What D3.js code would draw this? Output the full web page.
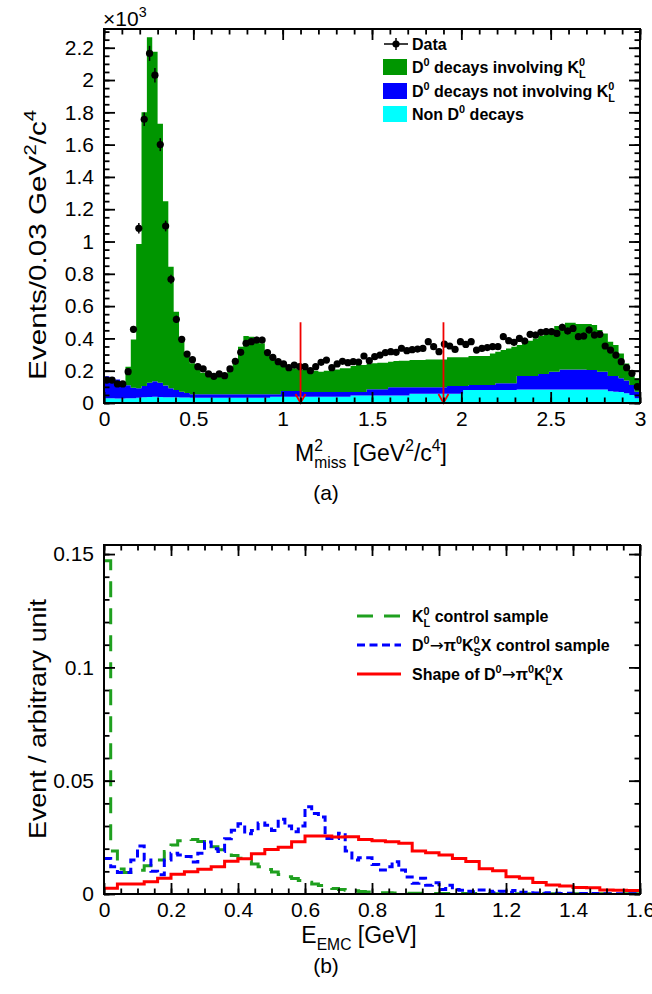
<!DOCTYPE html>
<html><head><meta charset="utf-8">
<script src="https://cdn.jsdelivr.net/npm/d3@7"></script>
<style>
body{margin:0;background:#fff}
svg{display:block}
text{font-family:"Liberation Sans",Arial,Helvetica,sans-serif;fill:#000}
</style></head><body>
<svg id="c" width="652" height="994"></svg>
<script>
// ---------------- Panel (a) data : 100 bins of 0.03 GeV^2/c^4 ----------------
const binWidthA = 0.03;
const dataCounts = [142,142,118,118,194,456,1082,1757,2165,2030,1600,1096,766,518,394,303,268,225,211,180,
165,180,169,211,258,314,370,380,390,390,312,283,256,242,219,235,225,225,200,225,
252,266,219,242,258,250,256,254,291,262,287,297,312,318,314,339,324,330,334,338,
380,349,318,365,353,332,380,363,380,328,338,343,349,349,411,386,376,400,384,425,
421,438,442,442,431,469,446,462,411,415,452,421,425,353,328,297,256,219,184,101];
const nonD0 = [30,30,28,28,30,30,32,35,37,38,37,36,35,35,34,34,33,33,33,33,
33,33,33,33,33,33,33,33,33,33,33,39,39,39,39,39,39,39,39,39,
39,39,39,39,39,39,47,47,47,47,47,47,47,47,47,47,47,58,58,58,
58,58,58,58,58,58,58,80,80,80,80,80,80,80,80,80,80,84,84,84,
84,84,84,84,84,84,84,84,84,84,84,84,84,84,72,70,68,60,50,30];
const d0NotKL = [135,130,117,100,80,65,60,70,88,97,88,72,57,45,36,28,21,21,21,21,
21,21,21,21,21,21,21,21,21,21,21,15,15,35,35,35,35,29,29,29,
29,29,29,29,29,29,21,21,21,38,38,38,38,51,51,51,51,40,40,40,
40,40,40,40,48,48,48,26,32,32,32,32,32,42,42,42,42,83,83,83,
83,96,96,110,110,124,124,124,124,124,120,120,110,110,95,97,85,79,62,40];
const d0KL = [0,0,0,0,115,299,893,1695,2140,2040,1605,1142,751,485,320,228,192,161,134,126,
113,109,113,161,212,295,361,357,336,316,253,222,202,161,151,141,130,136,126,132,
126,132,136,140,147,147,161,167,167,157,161,165,165,158,162,164,164,168,168,168,
172,172,172,172,177,177,177,177,179,179,179,179,195,196,206,216,227,192,203,219,
233,235,251,258,283,275,289,289,281,281,285,279,258,237,213,192,154,106,92,83];
const cutValues = [1.1, 1.9];
const cutArrowTop = 500;
const xTicksA = [0,0.5,1,1.5,2,2.5,3];
const yTicksA = [0,200,400,600,800,1000,1200,1400,1600,1800,2000,2200];

// ---------------- Panel (b) data ----------------
const binWidthKL = 0.02;
const klControl = [0.1470,0.0190,0.0110,0.0095,0.0100,0.0105,0.0125,0.0135,0.0150,0.0187,
0.0216,0.0235,0.0241,0.0240,0.0232,0.0222,0.0209,0.0195,0.0182,0.0170,
0.0158,0.0145,0.0132,0.0120,0.0108,0.0097,0.0086,0.0076,0.0068,0.0060,
0.0052,0.0044,0.0037,0.0030,0.0024,0.0020,0.0017,0.0014,0.0011,0.0009,
0.0007,0.0006,0.0005,0.0004,0.0004,0.0003,0.0003,0.0003,0.0003,0.0002,
0.0002,0.0002,0.0002,0.0002,0.0002,0.0002,0.0001,0.0001,0.0001,0.0001,
0.0001,0.0001,0.0001,0.0001,0.0001,0.0001,0.0001,0.0001,0.0001,0.0001,
0.0001,0.0001,0.0001,0.0001,0.0001,0.0001,0.0001,0.0001,0.0001,0.0001];
const binWidthKS = 0.02;
const ksControl = [0.0157,0.0120,0.0095,0.0095,0.0150,0.0212,0.0150,0.0100,0.0085,0.0150,
0.0180,0.0172,0.0165,0.0141,0.0180,0.0230,0.0200,0.0187,0.0244,0.0281,
0.0310,0.0266,0.0280,0.0313,0.0303,0.0280,0.0330,0.0300,0.0275,0.0300,
0.0385,0.0355,0.0340,0.0245,0.0245,0.0268,0.0190,0.0150,0.0160,0.0160,
0.0130,0.0106,0.0120,0.0142,0.0106,0.0075,0.0047,0.0070,0.0039,0.0050,
0.0020,0.0039,0.0020,0.0017,0.0012,0.0010,0.0018,0.0012,0.0006,0.0012,
0.0008,0.0015,0.0008,0.0005,0.0004,0.0003,0.0005,0.0003,0.0002,0.0003,
0.0002,0.0002,0.0001,0.0002,0.0001,0.0001,0.0001,0.0001,0.0001,0.0001];
const binWidthShape = 0.04;
const klShape = [0.0025,0.0044,0.0044,0.0054,0.0069,0.0087,0.0098,0.0109,0.0120,0.0145,
0.0156,0.0178,0.0196,0.0206,0.0231,0.0256,0.0256,0.0252,0.0253,0.0241,
0.0235,0.0231,0.0224,0.0190,0.0182,0.0172,0.0157,0.0143,0.0111,0.0103,
0.0076,0.0069,0.0051,0.0040,0.0035,0.0029,0.0028,0.0018,0.0016,0.0015];
const xTicksB = [0,0.2,0.4,0.6,0.8,1,1.2,1.4,1.6];
const yTicksB = [0,0.05,0.1,0.15];

// ---------------- helpers ----------------
const svg = d3.select('#c');
const FONT = '"Liberation Sans",Arial,Helvetica,sans-serif';

function rich(textSel, parts, fs) {
  // kinds: n | sup | sub | subs (sub stacked under previous sup) | arr (arrow glyph)
  let cur = 0, lastSup = null;
  parts.forEach(([t, k]) => {
    const target = k === 'sup' ? -0.42 * fs : (k === 'sub' || k === 'subs') ? 0.32 * fs : 0;
    const ts = textSel.append('tspan').text(t).attr('dy', target - cur);
    if (k === 'sup' || k === 'sub' || k === 'subs') ts.attr('font-size', 0.68 * fs);
    if (k === 'arr') ts.attr('font-family', '"DejaVu Sans",sans-serif').attr('font-weight', 'normal').attr('font-size', fs * 1.05);
    if (k === 'subs' && lastSup) ts.attr('dx', -lastSup.node().getComputedTextLength());
    if (k === 'sup') lastSup = ts;
    cur = target;
  });
}

function frameAxes(g, x, y, xt, xMinor, yt, yMinor, xfmt, yfmt, L, Ls) {
  const [x0, x1] = x.range(), [y0, y1] = y.range();
  const mk = (axis, tr) => {
    const a = g.append('g').attr('transform', tr).call(axis);
    a.select('.domain').remove();
    a.selectAll('line').attr('stroke', '#000').attr('stroke-width', 1.8);
    a.selectAll('text').attr('font-size', 21).attr('font-family', FONT).attr('fill', '#000');
    return a;
  };
  mk(d3.axisBottom(x).tickValues(xt).tickSize(-L).tickPadding(8).tickFormat(xfmt), `translate(0,${y0})`);
  mk(d3.axisBottom(x).tickValues(xMinor).tickSize(-Ls).tickFormat(''), `translate(0,${y0})`);
  mk(d3.axisTop(x).tickValues(xt).tickSize(-L).tickFormat(''), `translate(0,${y1})`);
  mk(d3.axisTop(x).tickValues(xMinor).tickSize(-Ls).tickFormat(''), `translate(0,${y1})`);
  mk(d3.axisLeft(y).tickValues(yt).tickSize(-L).tickPadding(10).tickFormat(yfmt), `translate(${x0},0)`);
  mk(d3.axisLeft(y).tickValues(yMinor).tickSize(-Ls).tickFormat(''), `translate(${x0},0)`);
  mk(d3.axisRight(y).tickValues(yt).tickSize(-L).tickFormat(''), `translate(${x1},0)`);
  mk(d3.axisRight(y).tickValues(yMinor).tickSize(-Ls).tickFormat(''), `translate(${x1},0)`);
  g.append('rect').attr('x', x0).attr('y', y1).attr('width', x1 - x0).attr('height', y0 - y1)
    .attr('fill', 'none').attr('stroke', '#000').attr('stroke-width', 2);
}

// ---------------- Panel (a) ----------------
const xA = d3.scaleLinear().domain([0, 3]).range([104, 640]);
const yA = d3.scaleLinear().domain([0, 2316]).range([403, 29]);
const gA = svg.append('g');

const rows = dataCounts.map((_, i) => ({ x: i * binWidthA, cyan: nonD0[i], blue: d0NotKL[i], green: d0KL[i] }));
const stacked = d3.stack().keys(['cyan', 'blue', 'green'])(rows);
const fillCol = { cyan: '#00ffff', blue: '#0000ff', green: '#009600' };
const areaA = d3.area().x(d => xA(d.x)).y0(d => yA(d.y0)).y1(d => yA(d.y1)).curve(d3.curveStepAfter);
stacked.forEach(s => {
  const pts = s.map((d, i) => ({ x: i * binWidthA, y0: d[0], y1: d[1] }));
  const last = pts[pts.length - 1];
  pts.push({ x: 3, y0: last.y0, y1: last.y1 });
  gA.append('path').attr('d', areaA(pts)).attr('fill', fillCol[s.key]).attr('stroke', 'none');
});

const ptsG = gA.append('g');
dataCounts.forEach((v, i) => {
  const cx = xA((i + 0.5) * binWidthA);
  const e = Math.sqrt(v);
  ptsG.append('line').attr('x1', cx).attr('x2', cx).attr('y1', yA(v - e)).attr('y2', yA(v + e))
    .attr('stroke', '#000').attr('stroke-width', 1.5);
  ptsG.append('circle').attr('cx', cx).attr('cy', yA(v)).attr('r', 3.6).attr('fill', '#000');
});

cutValues.forEach(c => {
  const ax = xA(c), yb = yA(0), yt = yA(cutArrowTop);
  gA.append('line').attr('x1', ax).attr('x2', ax).attr('y1', yt).attr('y2', yb)
    .attr('stroke', '#f00000').attr('stroke-width', 1.8);
  gA.append('path').attr('d', `M${ax - 5},${yb - 9}L${ax},${yb}L${ax + 5},${yb - 9}`)
    .attr('fill', 'none').attr('stroke', '#f00000').attr('stroke-width', 1.8);
});

frameAxes(gA, xA, yA, xTicksA, d3.range(0, 3.0001, 0.1).map(v => +v.toFixed(2)),
  yTicksA, d3.range(0, 2316, 50), d => String(d), d => String(+(d / 1000).toFixed(1)), 11, 5.5);

const e3 = svg.append('text').attr('x', 103).attr('y', 26).attr('font-size', 21);
rich(e3, [['\u00d710', 'n'], ['3', 'sup']], 21);

const xtA = svg.append('text').attr('x', 371).attr('y', 461).attr('text-anchor', 'middle').attr('font-size', 23);
rich(xtA, [['M', 'n'], ['2', 'sup'], ['miss', 'subs'], [' [GeV', 'n'], ['2', 'sup'], ['/c', 'n'], ['4', 'sup'], [']', 'n']], 23);

// y title (a): stretched along its length to match the reference
const ytAg = svg.append('g');
const ytA = ytAg.append('text').attr('text-anchor', 'middle').attr('font-size', 23);
rich(ytA, [['Events/0.03 GeV', 'n'], ['2', 'sup'], ['/c', 'n'], ['4', 'sup']], 23);
const lenA = ytA.node().getComputedTextLength();
ytAg.attr('transform', `translate(46,245) rotate(-90) scale(${270 / lenA},1)`);

svg.append('text').attr('x', 326).attr('y', 500).attr('text-anchor', 'middle').attr('font-size', 21).text('(a)');

const legA = svg.append('g').attr('font-weight', 'bold');
legA.append('line').attr('x1', 384).attr('x2', 408).attr('y1', 44).attr('y2', 44).attr('stroke', '#000').attr('stroke-width', 1.5);
legA.append('line').attr('x1', 396).attr('x2', 396).attr('y1', 38).attr('y2', 50).attr('stroke', '#000').attr('stroke-width', 1.5);
legA.append('circle').attr('cx', 396).attr('cy', 44).attr('r', 3.6).attr('fill', '#000');
const legItemsA = [
  { y: 44, parts: [['Data', 'n']] },
  { y: 67, fill: fillCol.green, parts: [['D', 'n'], ['0', 'sup'], [' decays involving K', 'n'], ['0', 'sup'], ['L', 'subs']] },
  { y: 91, fill: fillCol.blue, parts: [['D', 'n'], ['0', 'sup'], [' decays not involving K', 'n'], ['0', 'sup'], ['L', 'subs']] },
  { y: 114, fill: fillCol.cyan, parts: [['Non D', 'n'], ['0', 'sup'], [' decays', 'n']] }
];
legItemsA.forEach(it => {
  if (it.fill) legA.append('rect').attr('x', 383).attr('y', it.y - 8).attr('width', 24).attr('height', 16).attr('fill', it.fill);
  const t = legA.append('text').attr('x', 412).attr('y', it.y + 6).attr('font-size', 16);
  rich(t, it.parts, 16);
});

// ---------------- Panel (b) ----------------
const xB = d3.scaleLinear().domain([0, 1.6]).range([104, 640]);
const yB = d3.scaleLinear().domain([0, 0.154]).range([894, 545]);
const gB = svg.append('g');
svg.append('clipPath').attr('id', 'clipB').append('rect').attr('x', 104).attr('y', 545).attr('width', 536).attr('height', 349);

const stepLine = d3.line().x(d => xB(d[0])).y(d => yB(d[1])).curve(d3.curveStepAfter);
function histPts(vals, w) {
  const p = vals.map((v, i) => [i * w, v]);
  p.push([vals.length * w, vals[vals.length - 1]]);
  return p;
}
const linesB = [
  { vals: klControl, w: binWidthKL, col: '#1fa01f', dash: '16,11' },
  { vals: ksControl, w: binWidthKS, col: '#0000ff', dash: '8,4.5' },
  { vals: klShape, w: binWidthShape, col: '#ff0000', dash: null }
];
linesB.forEach(l => {
  const p = gB.append('path').attr('d', stepLine(histPts(l.vals, l.w))).attr('fill', 'none')
    .attr('stroke', l.col).attr('stroke-width', 3).attr('clip-path', 'url(#clipB)');
  if (l.dash) p.attr('stroke-dasharray', l.dash);
});

frameAxes(gB, xB, yB, xTicksB, d3.range(0, 1.6001, 0.05).map(v => +v.toFixed(3)),
  yTicksB, d3.range(0, 0.154, 0.01).map(v => +v.toFixed(3)), d => String(d), d => String(d), 11, 5.5);

const xtB = svg.append('text').attr('x', 359).attr('y', 943).attr('text-anchor', 'middle').attr('font-size', 23);
rich(xtB, [['E', 'n'], ['EMC', 'sub'], [' [GeV]', 'n']], 23);
const ytBg = svg.append('g');
const ytB = ytBg.append('text').attr('text-anchor', 'middle').attr('font-size', 23).text('Event / arbitrary unit');
const lenB = ytB.node().getComputedTextLength();
ytBg.attr('transform', `translate(46,719) rotate(-90) scale(${240 / lenB},1)`);
svg.append('text').attr('x', 326).attr('y', 973).attr('text-anchor', 'middle').attr('font-size', 21).text('(b)');

const legB = svg.append('g').attr('font-weight', 'bold');
const legItemsB = [
  { y: 616, col: '#1fa01f', dash: '16,11', parts: [['K', 'n'], ['0', 'sup'], ['L', 'subs'], [' control sample', 'n']] },
  { y: 645, col: '#0000ff', dash: '8,4.5', parts: [['D', 'n'], ['0', 'sup'], ['\u2192', 'arr'], ['\u03c0', 'n'], ['0', 'sup'], ['K', 'n'], ['0', 'sup'], ['S', 'subs'], ['X control sample', 'n']] },
  { y: 674, col: '#ff0000', dash: null, parts: [['Shape of D', 'n'], ['0', 'sup'], ['\u2192', 'arr'], ['\u03c0', 'n'], ['0', 'sup'], ['K', 'n'], ['0', 'sup'], ['L', 'subs'], ['X', 'n']] }
];
legItemsB.forEach(it => {
  const l = legB.append('line').attr('x1', 357).attr('x2', 401).attr('y1', it.y).attr('y2', it.y)
    .attr('stroke', it.col).attr('stroke-width', 3);
  if (it.dash) l.attr('stroke-dasharray', it.dash);
  const t = legB.append('text').attr('x', 412).attr('y', it.y + 6).attr('font-size', 16);
  rich(t, it.parts, 16);
});
</script>
</body></html>
